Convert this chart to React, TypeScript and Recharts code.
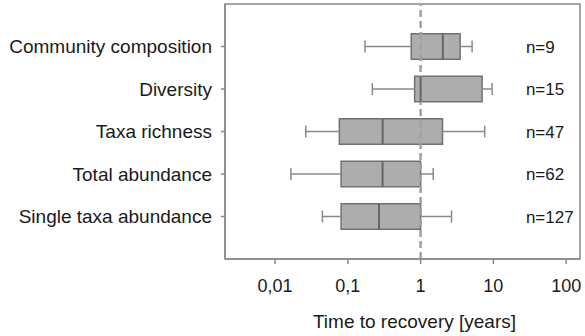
import { ComposedChart, XAxis, YAxis, Scatter, ReferenceLine, ReferenceArea } from 'recharts';

const categories = [
  'Community composition',
  'Diversity',
  'Taxa richness',
  'Total abundance',
  'Single taxa abundance',
];
const whiskerLow = [0.172, 0.217, 0.0264, 0.0165, 0.0447];
const q1 = [0.743, 0.828, 0.0764, 0.0807, 0.0807];
const median = [2.02, 1.0, 0.301, 0.3, 0.268];
const q3 = [3.49, 7.0, 2.0, 1.0, 1.0];
const whiskerHigh = [5.1, 9.6, 7.6, 1.49, 2.66];
const counts = [9, 15, 47, 62, 127];
const xTicks = [0.01, 0.1, 1, 10, 100];

const BOX_HALF = 0.3;
const CAP_HALF = 0.14;
const LABEL_X = 28;
const FONT = '"Liberation Sans", Arial, sans-serif';

const rows = categories.map((name, i) => ({
  row: i + 1,
  name,
  low: whiskerLow[i],
  q1: q1[i],
  median: median[i],
  q3: q3[i],
  high: whiskerHigh[i],
}));

const labelData = counts.map((n, i) => ({ x: LABEL_X, y: i + 1, text: `n=${n}` }));

const NLabel = (props: any) => (
  <text x={props.cx} y={props.cy} dy="0.37em" fontSize={17} fontFamily={FONT} fill="#1a1a1a">
    {props.payload.text}
  </text>
);

const fmtX = (v: number) => String(v).replace('.', ',');

const App = () => {
  return (
    <div style={{ position: 'absolute', left: 0, top: 0, width: 585, height: 336, background: '#fff' }}>
      <ComposedChart width={585} height={336} margin={{ top: 4, right: 5, left: 0, bottom: 0 }}>
        <XAxis
          type="number"
          dataKey="x"
          scale="log"
          domain={[0.00205, 155]}
          allowDataOverflow
          ticks={xTicks}
          tickFormatter={fmtX}
          height={77}
          tickSize={5}
          tickMargin={15}
          tick={{ fill: '#1a1a1a', fontSize: 18, fontFamily: FONT }}
          axisLine={{ stroke: '#8a8a8a', strokeWidth: 1.5 }}
          tickLine={{ stroke: '#8a8a8a', strokeWidth: 1.5 }}
          label={{
            value: 'Time to recovery [years]',
            position: 'insideBottom',
            offset: 8,
            dx: 12,
            fill: '#1a1a1a',
            fontSize: 19,
            fontFamily: FONT,
          }}
        />
        <YAxis
          type="number"
          dataKey="y"
          domain={[0, 6]}
          reversed
          ticks={[1, 2, 3, 4, 5]}
          tickFormatter={(v: number) => categories[v - 1] ?? ''}
          width={225}
          tickSize={4}
          tickMargin={9}
          tick={{ fill: '#1a1a1a', fontSize: 19, fontFamily: FONT }}
          axisLine={{ stroke: '#8a8a8a', strokeWidth: 1.5 }}
          tickLine={{ stroke: '#8a8a8a', strokeWidth: 1.5 }}
        />
        <ReferenceArea y1={0} y2={6} fill="none" stroke="#8a8a8a" strokeWidth={1.5} />
        <ReferenceLine x={1} stroke="#a0a0a0" strokeWidth={2.5} strokeDasharray="7 4" />
        {rows.map((r) => (
          <ReferenceLine
            key={`wl-${r.row}`}
            segment={[{ x: r.low, y: r.row }, { x: r.q1, y: r.row }]}
            stroke="#8a8a8a"
            strokeWidth={1.5}
          />
        ))}
        {rows.map((r) => (
          <ReferenceLine
            key={`wh-${r.row}`}
            segment={[{ x: r.q3, y: r.row }, { x: r.high, y: r.row }]}
            stroke="#8a8a8a"
            strokeWidth={1.5}
          />
        ))}
        {rows.map((r) => (
          <ReferenceLine
            key={`cl-${r.row}`}
            segment={[{ x: r.low, y: r.row - CAP_HALF }, { x: r.low, y: r.row + CAP_HALF }]}
            stroke="#8a8a8a"
            strokeWidth={1.5}
          />
        ))}
        {rows.map((r) => (
          <ReferenceLine
            key={`ch-${r.row}`}
            segment={[{ x: r.high, y: r.row - CAP_HALF }, { x: r.high, y: r.row + CAP_HALF }]}
            stroke="#8a8a8a"
            strokeWidth={1.5}
          />
        ))}
        {rows.map((r) => (
          <ReferenceArea
            key={`box-${r.row}`}
            x1={r.q1}
            x2={r.q3}
            y1={r.row - BOX_HALF}
            y2={r.row + BOX_HALF}
            fill="#a6a6a6"
            fillOpacity={0.92}
            stroke="#717171"
            strokeWidth={1.5}
          />
        ))}
        {rows.map((r) => (
          <ReferenceLine
            key={`med-${r.row}`}
            segment={[{ x: r.median, y: r.row - BOX_HALF }, { x: r.median, y: r.row + BOX_HALF }]}
            stroke="#666"
            strokeWidth={2}
          />
        ))}
        <Scatter data={labelData} shape={NLabel} isAnimationActive={false} />
      </ComposedChart>
    </div>
  );
};

export default App;
